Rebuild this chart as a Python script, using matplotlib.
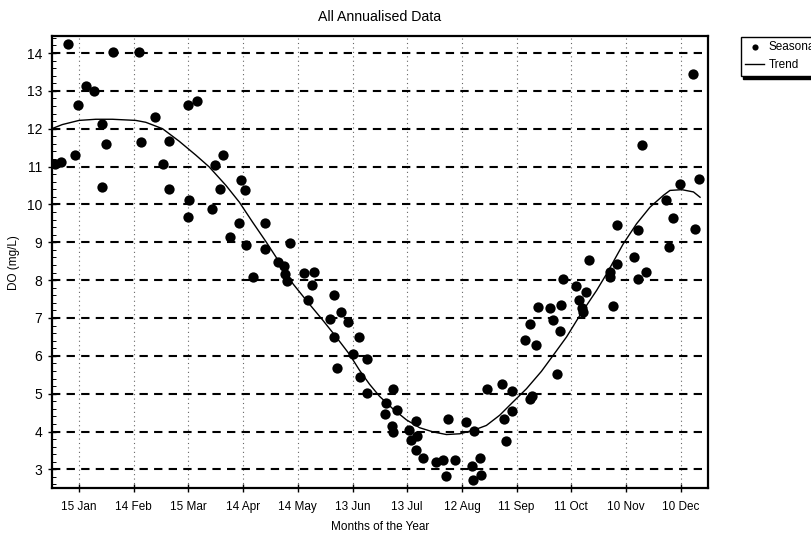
import numpy as np
from matplotlib import pyplot as plt
from matplotlib.ticker import MultipleLocator

# day of year / dissolved oxygen readings
seasonal_day = [1.8, 5.0, 9.1, 14.6, 12.7, 18.7, 23.4, 27.5, 27.5, 29.7,
                33.7, 48.0, 48.7, 56.6, 61.3, 64.4, 64.4, 75.0, 79.7, 75.4,
                75.0, 87.7, 89.5, 93.7, 92.5, 98.0, 102.5, 103.8, 106.0, 106.6,
                110.2, 116.8, 116.8, 130.9, 124.0, 127.3, 128.2, 128.9, 138.2, 144.1,
                142.6, 140.4, 154.7, 158.8, 152.7, 162.4, 154.7, 168.8, 165.5, 172.8,
                156.7, 169.2, 172.7, 187.1, 183.1, 189.4, 182.6, 186.8, 187.1, 199.6,
                195.7, 200.3, 197.2, 199.6, 203.6, 210.6, 214.6, 216.5, 217.3, 221.0,
                227.1, 231.5, 234.7, 230.7, 231.1, 235.7, 238.9, 246.8, 252.2, 252.2,
                248.0, 249.4, 262.3, 263.4, 276.9, 259.5, 265.5, 262.2, 275.0, 278.7,
                266.8, 273.5, 279.2, 280.4, 287.3, 293.3, 289.3, 290.6, 291.2, 294.8,
                308.0, 306.2, 306.2, 310.2, 310.2, 319.5, 321.7, 325.9, 321.7, 323.6,
                338.6, 336.8, 340.5, 344.6, 355.2, 352.9, 351.6]
seasonal_do = [11.07, 11.11, 14.23, 12.62, 11.30, 13.13, 13.01, 12.13, 10.47, 11.60,
               14.04, 14.04, 11.65, 12.30, 11.06, 11.67, 10.42, 12.62, 12.72, 10.13,
               9.68, 9.89, 11.03, 11.31, 10.42, 9.14, 9.52, 10.64, 10.37, 8.94,
               8.08, 9.52, 8.83, 8.99, 8.48, 8.36, 8.15, 7.97, 8.20, 8.21,
               7.86, 7.47, 7.62, 7.17, 6.98, 6.89, 6.50, 6.50, 6.06, 5.92,
               5.67, 5.44, 5.02, 5.11, 4.76, 4.57, 4.47, 4.14, 3.99, 4.28,
               4.05, 3.88, 3.77, 3.52, 3.31, 3.19, 3.24, 2.82, 4.34, 3.24,
               4.25, 4.01, 3.31, 3.08, 2.73, 2.84, 5.11, 5.25, 5.07, 4.54,
               4.34, 3.75, 4.86, 4.93, 5.53, 6.41, 6.28, 6.83, 6.94, 6.65,
               7.29, 7.27, 7.33, 8.04, 7.84, 7.68, 7.47, 7.27, 7.16, 8.54,
               7.31, 8.21, 8.08, 8.42, 9.45, 8.61, 9.33, 8.21, 8.04, 11.56,
               8.87, 10.11, 9.64, 10.55, 10.66, 9.36, 13.45]

trend_day = [0, 5.8, 15, 24.2, 33.3, 46.1, 51.6, 60.8, 69.9, 79.1,
             86.4, 95.6, 102.9, 110.2, 117.6, 124.9, 132.2, 140.4, 148.7, 156.0,
             163.3, 168.8, 174.3, 179.8, 187.1, 194.5, 201.8, 209.1, 216.5, 223.8,
             231.1, 238.4, 245.7, 253.0, 260.4, 268.6, 275.0, 282.4, 289.7, 298.9,
             304.4, 313.5, 320.8, 328.2, 335.5, 339.1, 345.6, 352.0, 355.6]
trend_do = [12.00, 12.11, 12.22, 12.25, 12.25, 12.22, 12.17, 12.00, 11.67, 11.30,
            10.99, 10.50, 10.06, 9.53, 9.01, 8.47, 7.91, 7.42, 6.94, 6.50,
            6.04, 5.62, 5.25, 4.93, 4.60, 4.31, 4.10, 3.99, 3.92, 3.94,
            4.03, 4.16, 4.43, 4.78, 5.13, 5.59, 6.01, 6.50, 7.07, 7.73,
            8.17, 8.96, 9.49, 9.93, 10.24, 10.37, 10.39, 10.33, 10.19]

tick_days = [15, 45, 75, 105, 135, 165, 195, 225, 255, 285, 315, 345]
tick_labels = ['15 Jan', '14 Feb', '15 Mar', '14 Apr', '14 May', '13 Jun',
               '13 Jul', '12 Aug', '11 Sep', '11 Oct', '10 Nov', '10 Dec']

plt.rcParams['font.family'] = ['Liberation Sans', 'DejaVu Sans']
plt.rcParams['font.size'] = 8.5

fig = plt.figure(figsize=(8.12, 5.39), dpi=100)
ax = fig.add_axes([0.0637, 0.0941, 0.8083, 0.8391])

ax.scatter(seasonal_day, seasonal_do, s=55, c='black', marker='o',
           linewidths=0, zorder=3, label='Seasonal')
ax.plot(trend_day, trend_do, color='black', lw=1.0, zorder=4, label='Trend')

ax.set_xlim(0, 360)
ax.set_ylim(2.5, 14.45)
ax.set_xticks(tick_days)
ax.set_xticklabels(tick_labels)
ax.set_yticks(np.arange(3, 15))
ax.yaxis.set_minor_locator(MultipleLocator(0.2))
ax.tick_params(axis='both', which='major', direction='inout', length=6, width=1, pad=6)
ax.tick_params(axis='y', which='major', labelsize=10, pad=4)
ax.tick_params(axis='y', which='minor', direction='in', length=3, width=0.7)

# dashed horizontals, dotted verticals
ax.yaxis.grid(True, color='black', linestyle=(0, (4, 3)), lw=1.5)
ax.xaxis.grid(True, color='#666666', linestyle=(0, (1, 3)), lw=0.8)
ax.set_axisbelow(True)
for sp in ax.spines.values():
    sp.set_linewidth(1.6)

ax.set_title('All Annualised Data', pad=11)
ax.set_xlabel('Months of the Year', labelpad=6)
ax.set_ylabel('DO (mg/L)', labelpad=5)

leg = fig.legend(loc='upper left', bbox_to_anchor=(0.912, 0.932), borderaxespad=0,
                 frameon=True, fancybox=False, handlelength=1.6, handletextpad=0.4,
                 shadow={'color': 'black', 'alpha': 1}, markerscale=0.6)
leg.get_frame().set_edgecolor('black')
leg.get_frame().set_linewidth(1.0)

plt.savefig('out.png', dpi=100)
